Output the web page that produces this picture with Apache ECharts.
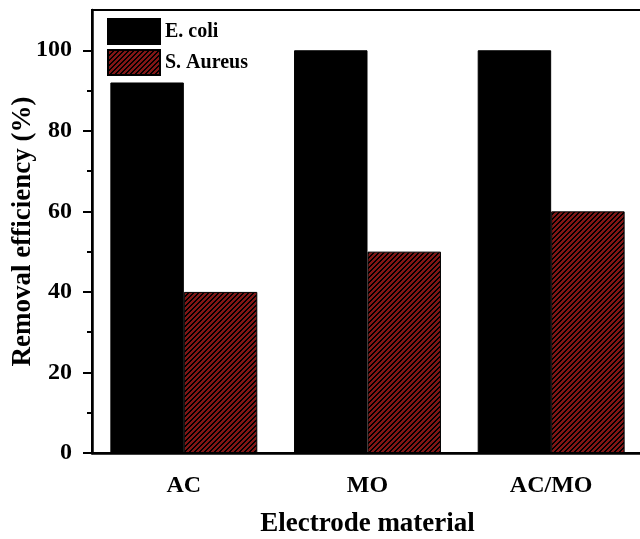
<!DOCTYPE html>
<html>
<head>
<meta charset="utf-8">
<script src="https://cdn.jsdelivr.net/npm/echarts@6/dist/echarts.min.js"></script>
<style>
html,body{margin:0;padding:0;background:#fff;}
#chart{width:640px;height:539px;}
</style>
</head>
<body>
<div id="chart"></div>
<script>
const categories = ['AC', 'MO', 'AC/MO'];
const ecoli = [92, 100, 100];
const saureus = [40, 50, 60];
const yMajorTicks = [0, 20, 40, 60, 80, 100];
const yMinorTicks = [10, 30, 50, 70, 90];

const FONT = "'Liberation Serif', 'Times New Roman', serif";

function makeHatch() {
  const n = 5;
  const c = document.createElement('canvas');
  c.width = n; c.height = n;
  const ctx = c.getContext('2d');
  const img = ctx.createImageData(n, n);
  for (let y = 0; y < n; y++) {
    for (let x = 0; x < n; x++) {
      const i = (y * n + x) * 4;
      const k = (x + y) % n;
      if (k < 2) { img.data[i] = 0; img.data[i+1] = 0; img.data[i+2] = 0; }
      else { img.data[i] = 0x80; img.data[i+1] = 0x16; img.data[i+2] = 0x16; }
      img.data[i+3] = 255;
    }
  }
  ctx.putImageData(img, 0, 0);
  return c;
}

const chart = echarts.init(document.getElementById('chart'), null, {renderer: 'canvas'});
const option = {
  backgroundColor: '#fff',
  animation: false,
  grid: {
    left: 92, top: 10, bottom: 86, width: 551,
    outerBoundsMode: 'none', containLabel: false,
    show: true, borderColor: '#000', borderWidth: 2, backgroundColor: 'transparent'
  },
  legend: {
    orient: 'vertical', left: 107, top: 18, padding: 0,
    itemWidth: 52, itemHeight: 25, itemGap: 4,
    icon: 'rect',
    textStyle: {fontFamily: FONT, fontWeight: 'bold', fontSize: 20, color: '#000'},
    data: ['E. coli', 'S. Aureus']
  },
  xAxis: {
    type: 'category', data: categories,
    name: 'Electrode material', nameLocation: 'middle', nameGap: 58, nameMoveOverlap: false,
    nameTextStyle: {fontFamily: FONT, fontWeight: 'bold', fontSize: 27, color: '#000'},
    axisLine: {lineStyle: {color: '#000', width: 2.5}},
    axisTick: {alignWithLabel: true, length: 9, lineStyle: {color: '#000', width: 2}},
    axisLabel: {fontFamily: FONT, fontWeight: 'bold', fontSize: 24, color: '#000', margin: 21},
    splitLine: {show: false}
  },
  yAxis: [{
    type: 'value', min: 0, max: 110, interval: 20,
    name: 'Removal efficiency (%)', nameLocation: 'middle', nameGap: 55, nameMoveOverlap: false,
    nameTextStyle: {fontFamily: FONT, fontWeight: 'bold', fontSize: 27, color: '#000'},
    axisLine: {show: true, lineStyle: {color: '#000', width: 2.5}},
    axisTick: {show: true, length: 9, customValues: yMajorTicks, lineStyle: {color: '#000', width: 2}},
    axisLabel: {fontFamily: FONT, fontWeight: 'bold', fontSize: 24, color: '#000', margin: 20, customValues: yMajorTicks},
    splitLine: {show: false}
  }, {
    type: 'value', min: 0, max: 110, interval: 10, position: 'left',
    axisLine: {show: false},
    axisTick: {show: true, length: 5, customValues: yMinorTicks, lineStyle: {color: '#000', width: 2}},
    axisLabel: {show: false},
    splitLine: {show: false}
  }],
  series: [{
    name: 'E. coli', type: 'bar', data: ecoli,
    barGap: '0%', barCategoryGap: '20%',
    itemStyle: {color: '#000', borderColor: '#000', borderWidth: 1}
  }, {
    name: 'S. Aureus', type: 'bar', data: saureus,
    barGap: '0%', barCategoryGap: '20%',
    itemStyle: {color: {image: makeHatch(), repeat: 'repeat'}, borderColor: '#000', borderWidth: 1}
  }]
};
chart.setOption(option);
</script>
</body>
</html>
